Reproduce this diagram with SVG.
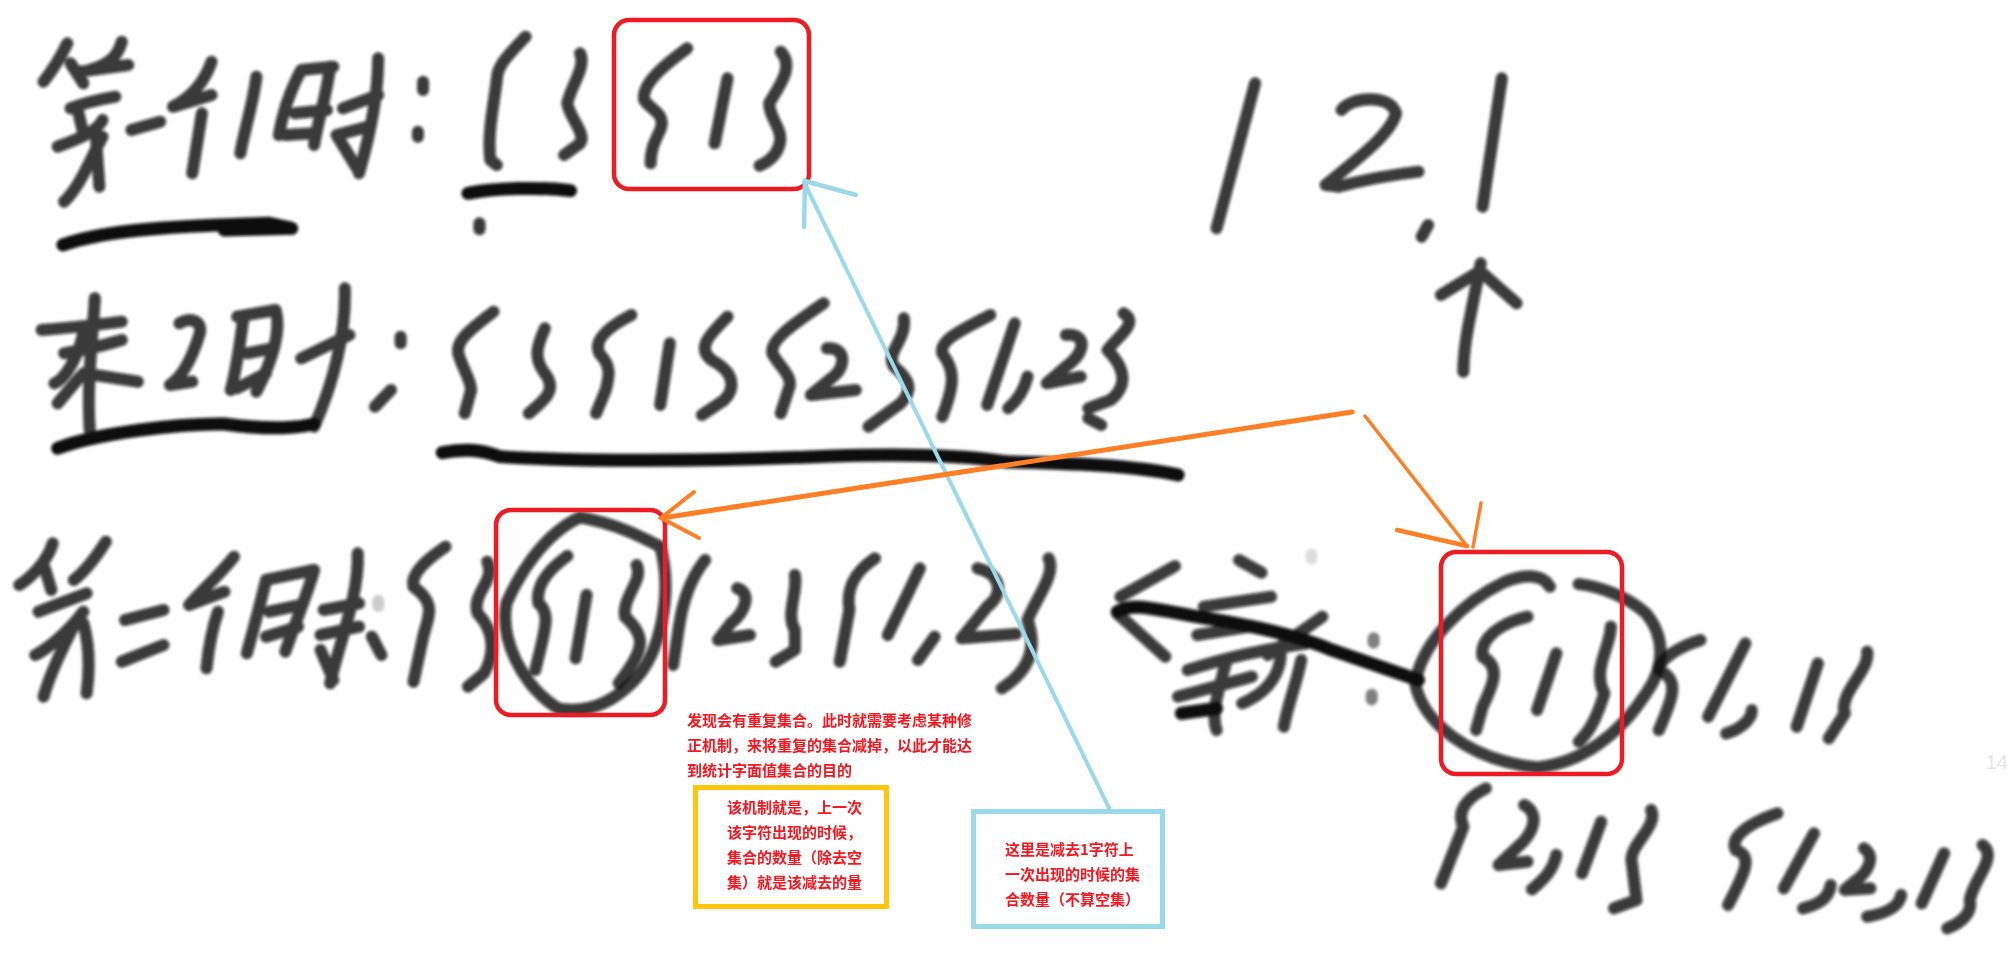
<svg xmlns="http://www.w3.org/2000/svg" width="2010" height="957" viewBox="0 0 2010 957">
<style>
.k{fill:none;stroke:#0c0c0c;stroke-opacity:.82;stroke-width:12;stroke-linecap:round;stroke-linejoin:round;vector-effect:non-scaling-stroke}
.b{stroke-opacity:1;stroke-width:13}
.rb{fill:none;stroke:#ed1c24;stroke-width:4.5}
.note{fill:#fff;stroke-width:5}
.t{font:700 15px "Noto Sans CJK SC","Liberation Sans",sans-serif;fill:#f5161f}
.bl{fill:none;stroke:#99d9ea;stroke-linecap:round}
.or{fill:none;stroke:#ff7f27;stroke-linecap:round}
</style>
<defs>
<filter id="soft" filterUnits="userSpaceOnUse" x="0" y="0" width="2010" height="957"><feGaussianBlur stdDeviation="1.4"/></filter>
</defs>
<rect width="2010" height="957" fill="#fff"/>
<g id="ink" filter="url(#soft)">
<g id="ink-top-left" transform="scale(.641 .3333)">
<path class="k" d="M105 130C95 170 80 215 68 245M190 125C185 160 175 190 140 210M110 190L130 250M200 195L125 215M180 290C150 300 130 310 110 325M120 320L130 400M250 365L205 390M160 360C150 400 110 425 90 440M160 410C140 480 125 560 100 605M150 420L155 560"/>
<path class="k" d="M330 185C320 240 300 290 270 320M330 285L270 320M315 340L300 520"/>
<path class="k" d="M400 230C395 310 380 400 375 460"/>
<path class="k" d="M520 200L470 210C450 280 440 350 435 405M515 200C510 280 495 370 490 435M460 340L510 330M445 405L490 400"/>
<path class="k" d="M590 175C590 300 575 420 560 520M590 285L535 325M575 380L525 405L560 515"/>
<path class="k" d="M660 245L660 270M652 395L652 410"/>
<path class="k" d="M820 110C790 170 775 200 775 240C770 320 760 400 765 480L775 495"/>
<path class="k" d="M905 160C915 200 890 260 885 310C890 360 915 400 905 430L880 465"/>
<path class="k b" d="M730 580C770 565 840 560 890 572"/>
<path class="k" d="M748 670L748 688"/>
<path class="k b" d="M98 735C150 700 220 680 420 670L455 685L350 690"/>
<path class="k" d="M1072 145C1040 190 1000 250 1005 300C1015 330 1040 340 1030 390C1020 430 1015 450 1015 490"/>
<path class="k" d="M1135 235L1115 430"/>
<path class="k" d="M1218 155C1240 200 1215 260 1200 310C1200 360 1225 390 1215 440C1210 470 1195 490 1185 497"/>
<path class="k" d="M65 990C100 985 150 975 190 965M148 895C145 1000 135 1150 140 1290M100 1060C160 1040 170 1030 190 1020M130 1000C120 1080 100 1140 85 1150M130 1120L215 1145M125 1130L90 1210"/>
<path class="k" d="M280 970C295 950 320 960 310 1010C300 1070 285 1130 265 1155L300 1145"/>
<path class="k" d="M370 950L430 930C440 1000 420 1100 400 1175M380 950C375 1020 370 1100 360 1170M385 1060L425 1045M370 1165L415 1120"/>
<path class="k" d="M538 865C540 1000 520 1150 490 1280M545 1005L470 1075"/>
<path class="k b" d="M90 1345C150 1300 280 1270 350 1272C400 1285 450 1290 490 1272"/>
<path class="k" d="M625 1010L625 1030M610 1170L585 1220"/>
<path class="k" d="M770 935C740 980 710 1020 715 1060C720 1100 735 1140 735 1170L725 1240"/>
<path class="k" d="M850 985C840 1030 830 1070 850 1120C870 1170 850 1200 825 1240"/>
<path class="k" d="M985 945C950 980 925 1020 935 1060C955 1100 950 1130 945 1170L930 1240"/>
<path class="k" d="M1045 1030L1030 1215"/>
<path class="k" d="M1135 950C1110 1000 1085 1040 1110 1080C1150 1120 1145 1170 1130 1200L1095 1245"/>
<path class="k" d="M1285 910C1240 970 1200 1020 1205 1060C1215 1100 1240 1130 1230 1170L1218 1240"/>
<path class="k" d="M1290 1045C1320 1040 1320 1100 1300 1130L1265 1185L1335 1170"/>
<path class="k" d="M1410 955C1415 1020 1380 1060 1395 1100C1420 1140 1425 1170 1405 1210L1355 1280"/>
<path class="k" d="M1545 945C1500 990 1465 1020 1470 1060C1490 1110 1490 1150 1470 1250"/>
<path class="k" d="M1583 970L1540 1215"/>
<path class="k b" d="M690 1358C730 1345 750 1350 780 1370C900 1385 1100 1385 1300 1368C1400 1362 1500 1365 1568 1385"/>
</g>
<g id="ink-top-right" transform="translate(1005 0) scale(.641 .3333)">
<path class="k" d="M390 250L330 685"/>
<path class="k" d="M525 330C540 290 600 280 610 340C600 410 540 490 500 555L520 560C560 540 600 525 645 515"/>
<path class="k" d="M775 235L745 620"/>
<path class="k" d="M660 675L650 710"/>
<path class="k" d="M715 1115C715 1020 730 920 742 790M680 885L735 820M745 820L798 910"/>
<path class="k" d="M35 1130C30 1170 20 1200 5 1225"/>
<path class="k" d="M95 1005C130 1000 125 1060 95 1100L65 1150L118 1130"/>
<path class="k" d="M185 940C210 970 175 1010 160 1050C190 1110 190 1160 165 1200L130 1225M130 1255L150 1275"/>
<path class="k b" d="M0 1385C100 1390 200 1395 270 1425"/>
</g>
<g id="ink-bottom-left" transform="translate(0 480) scale(.641 .3333)">
<path class="k" d="M82 190C75 240 50 290 30 315M165 185C150 230 135 270 115 300M70 265L80 330M135 340L60 395M130 395C100 470 70 510 55 525M120 420C90 530 75 600 68 650M130 430C140 500 140 570 135 640"/>
<path class="k" d="M255 390L195 420M255 495L190 545"/>
<path class="k" d="M365 230C340 290 310 340 295 375M350 335L295 375M340 395C330 450 325 510 322 565"/>
<path class="k" d="M490 270L415 300C405 380 395 450 385 520M490 270C480 340 460 430 445 515M420 395L470 375M415 470L465 440"/>
<path class="k" d="M558 220C560 350 530 480 515 610M560 370L505 390M500 465L560 440M500 510L520 600"/>
<path d="M590 362L590 378" class="k" style="stroke:#ccc;stroke-opacity:1"/>
<path class="k" d="M580 470L595 525"/>
<path class="k" d="M695 200C665 240 640 280 645 320C680 370 670 400 660 470L645 605"/>
<path class="k" d="M760 245C775 300 735 340 745 400C775 460 770 530 755 580L730 620"/>
<path class="k" d="M905 112C850 160 810 280 790 370C780 470 810 610 870 685C910 700 950 680 990 600C1030 520 1050 340 1030 200C1000 170 960 130 905 112"/>
<path class="k" d="M885 228C855 270 835 320 840 370C860 400 850 450 835 570"/>
<path class="k" d="M915 345L898 535"/>
<path class="k" d="M993 255C1005 300 970 350 975 410C1010 470 1005 510 965 610"/>
<path class="k" d="M1100 240C1075 300 1065 370 1060 430L1050 555"/>
<path class="k" d="M1150 325C1175 340 1160 400 1140 430L1120 480L1170 465"/>
<path class="k" d="M1240 285C1245 340 1225 400 1240 450L1240 510L1210 545"/>
<path class="k" d="M1365 235C1330 280 1320 330 1325 390L1310 545"/>
<path class="k" d="M1435 265L1385 465"/>
<path class="k" d="M1458 470L1432 540"/>
<path class="k" d="M1525 265C1560 280 1568 340 1540 380L1500 475L1585 462"/>
</g>
<g id="ink-bottom-right" transform="translate(1005 480) scale(.641 .3333)">
<path class="k" d="M68 235C80 280 50 350 35 420C50 500 40 570 -5 625"/>
<path class="k" d="M265 258L180 350M175 400L250 530"/>
<path class="k b" d="M175 395C195 370 220 380 300 410C400 440 460 470 510 510L645 600"/>
<path class="k" d="M365 240L400 278M310 380L415 350M300 465L380 440M285 570C350 530 400 510 470 490M495 410L410 525M270 650L385 590M345 545C335 620 320 700 330 750M370 670C420 630 430 560 430 520M462 540C455 610 440 680 435 740"/>
<path class="k b" d="M275 700L330 685"/>
<path d="M478 224L478 236" class="k" style="stroke:#ddd;stroke-opacity:1"/>
<path class="k" style="stroke-opacity:.5" d="M575 474L575 488M572 644L572 658"/>
<path class="k" d="M850 320C840 285 815 280 780 305C720 360 650 480 640 610C650 720 720 840 830 862C900 850 960 760 1000 640C1030 560 1030 470 1000 400C970 350 930 320 895 312"/>
<path class="k" d="M815 410C770 430 740 480 745 530C775 560 760 620 745 680L735 750"/>
<path class="k" d="M860 520L830 690"/>
<path class="k" d="M945 440C945 500 915 570 935 640C925 700 915 750 895 785"/>
<path class="k" d="M1085 480C1050 500 1020 540 1020 570C1055 600 1040 660 1020 750"/>
<path class="k" d="M1155 490L1097 710"/>
<path class="k" d="M1165 690C1165 720 1145 750 1125 760"/>
<path class="k" d="M1268 550L1235 740"/>
<path class="k" d="M1345 515C1350 570 1300 640 1310 700L1285 775"/>
<path class="k" d="M750 925C715 960 705 1000 715 1040L680 1210"/>
<path class="k" d="M810 975C835 1000 825 1060 800 1100L770 1155L815 1145"/>
<path class="k" d="M860 1125C855 1170 840 1200 822 1228"/>
<path class="k" d="M930 1025L900 1180"/>
<path class="k" d="M1008 990C1020 1040 970 1100 978 1150L985 1260L950 1285"/>
<path class="k" d="M1205 1000C1160 1030 1130 1070 1140 1110C1170 1130 1150 1190 1128 1275"/>
<path class="k" d="M1262 1060L1215 1225"/>
<path class="k" d="M1288 1215C1285 1260 1265 1275 1245 1285"/>
<path class="k" d="M1340 1105C1360 1130 1345 1180 1325 1205L1310 1230L1350 1225"/>
<path class="k" d="M1398 1245C1395 1280 1375 1300 1345 1310"/>
<path class="k" d="M1465 1120L1430 1270"/>
<path class="k" d="M1525 1095C1550 1130 1510 1200 1505 1260C1510 1300 1490 1330 1470 1345"/>
</g>
</g>
<text x="2008" y="769" text-anchor="end" font-family="Liberation Sans, sans-serif" font-size="20" fill="#e4e4e4">14</text>
<g id="box-top"><rect class="rb" x="614" y="20" width="195" height="169" rx="15"/></g>
<g id="box-mid"><rect class="rb" x="496" y="510" width="169" height="205" rx="15"/></g>
<g id="box-right"><rect class="rb" x="1441" y="552" width="181" height="222" rx="15"/></g>
<g id="connectors">
<path class="bl" stroke-width="4" d="M1109 808L804 182"/>
<path class="bl" stroke-width="4.5" d="M856 195L805 181L804 227"/>
<path class="or" stroke-width="5" d="M1352 412L662 518"/>
<path class="or" stroke-width="4" d="M694 492L661 518L699 538"/>
<path class="or" stroke-width="3.5" d="M1365 416L1467 546"/>
<path class="or" stroke-width="4.5" d="M1397 530L1467 546"/>
<path class="or" stroke-width="3.5" d="M1481 503L1473 547"/>
</g>
<g id="note-top">
<text class="t"><tspan x="687" y="726">发现会有重复集合。此时就需要考虑某种修</tspan><tspan x="687" y="751">正机制，来将重复的集合减掉，以此才能达</tspan><tspan x="687" y="776">到统计字面值集合的目的</tspan></text>
</g>
<g id="note-yellow">
<rect class="note" x="695.5" y="787.5" width="191" height="119" stroke="#ffc60b"/>
<text class="t"><tspan x="727" y="813">该机制就是，上一次</tspan><tspan x="727" y="838">该字符出现的时候，</tspan><tspan x="727" y="863">集合的数量（除去空</tspan><tspan x="727" y="888">集）就是该减去的量</tspan></text>
</g>
<g id="note-blue">
<rect class="note" x="973.5" y="811.5" width="189" height="115" stroke="#99d9ea"/>
<text class="t"><tspan x="1005" y="855">这里是减去1字符上</tspan><tspan x="1005" y="880">一次出现的时候的集</tspan><tspan x="1005" y="905">合数量（不算空集）</tspan></text>
</g>
</svg>
